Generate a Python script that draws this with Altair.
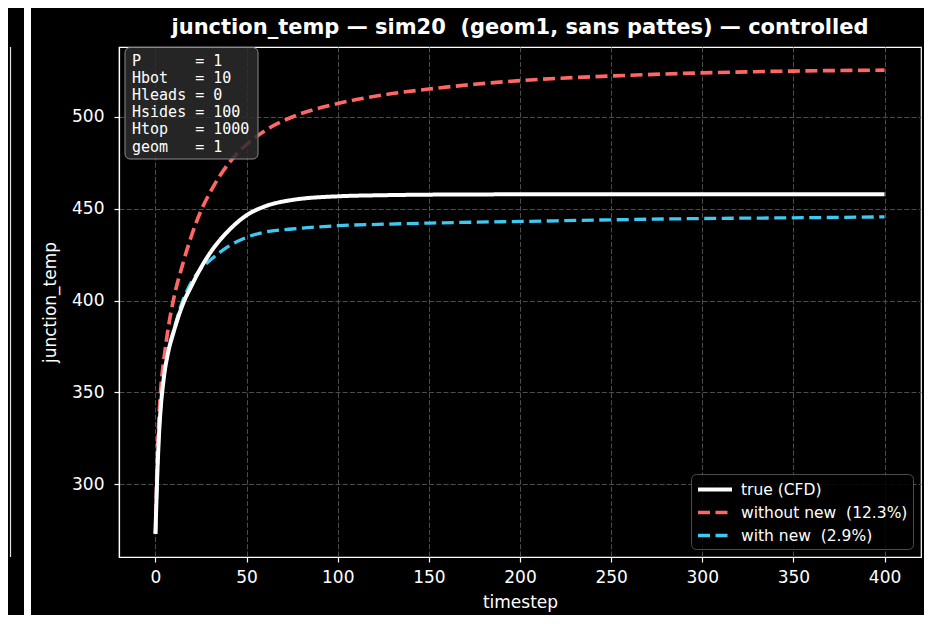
import altair as alt
import pandas as pd

# ---- data ----
timesteps = [0, 1, 2, 3, 4, 5, 7, 10, 15, 20, 25, 30, 40, 50, 60, 75, 100, 125, 150, 175, 200, 250, 300, 350, 400]
true_cfd = [273, 305, 328, 343, 353, 361, 372, 383, 398, 408.5, 418, 426, 438, 446.5, 451.3, 454.8, 456.8, 457.4,
            457.7, 457.8, 457.9, 457.9, 457.9, 457.9, 457.9]
without_new = [273, 314, 338, 353, 363, 371, 385, 401, 420, 436, 449, 459, 474.5, 485, 492.5, 500, 507.3, 512,
               515.2, 517.8, 519.8, 522.3, 524, 525, 525.5]
with_new = [273, 305, 329, 344, 354, 362, 373, 384, 400, 410.5, 417.5, 422, 429.5, 434.5, 437.3, 439, 440.8,
            441.6, 442.2, 442.7, 443.1, 444, 444.7, 445.1, 445.6]

series_names = ["true (CFD)", "without new\u00a0 (12.3%)", "with new\u00a0 (2.9%)"]
series_colors = ["#ffffff", "#ff6666", "#3ec8f2"]
series_dash = [[1, 0], [12, 5.5], [12, 5.5]]
series_width = [4, 3.3, 3.3]

x_ticks = [0, 50, 100, 150, 200, 250, 300, 350, 400]
y_ticks = [300, 350, 400, 450, 500]

params = [("P", 1), ("Hbot", 10), ("Hleads", 0), ("Hsides", 100), ("Htop", 1000), ("geom", 1)]
box_lines = [f"{k:<6} = {v}".replace(" ", "\u00a0") for k, v in params]

title_text = "junction_temp \u2014 sim20\u00a0 (geom1, sans pattes) \u2014 controlled"

rows = []
for name, vals in zip(series_names, [true_cfd, without_new, with_new]):
    for t, v in zip(timesteps, vals):
        rows.append({"timestep": t, "junction_temp": v, "series": name})
df = pd.DataFrame(rows)

FONT = "DejaVu Sans"

leg = alt.Legend(
    title=None, orient="none", legendX=572, legendY=427,
    symbolType="M-1,0H3", symbolSize=289, labelOffset=24,
    labelFontSize=15.5, labelFont=FONT, labelColor="white", labelLimit=400,
    fillColor="rgba(0,0,0,0.85)", strokeColor="#4d4d4d", cornerRadius=5,
    padding=5, rowPadding=4,
)

x_enc = alt.X("timestep:Q", scale=alt.Scale(domain=[-20, 420], nice=False, zero=False),
              axis=alt.Axis(values=x_ticks, title="timestep", format="d"))
y_enc = alt.Y("junction_temp:Q", scale=alt.Scale(domain=[260.4, 538.1], nice=False, zero=False),
              axis=alt.Axis(values=y_ticks, title="junction_temp", format="d"))
color_enc = alt.Color("series:N", scale=alt.Scale(domain=series_names, range=series_colors), legend=leg)
dash_enc = alt.StrokeDash("series:N", scale=alt.Scale(domain=series_names, range=series_dash), legend=leg)
width_enc = alt.StrokeWidth("series:N", scale=alt.Scale(domain=series_names, range=series_width), legend=leg)

base = alt.Chart(df).mark_line(interpolate="monotone").encode(
    x=x_enc, y=y_enc, color=color_enc, strokeDash=dash_enc, strokeWidth=width_enc
)

line_layers = [base.transform_filter(alt.datum.series == s) for s in [series_names[2], series_names[1], series_names[0]]]

one = alt.Data(values=[{"k": 1}])

box_rect = alt.Chart(one).mark_rect(
    cornerRadius=5, fill="#2b2b2b", fillOpacity=0.85, stroke="#8a8a8a", strokeWidth=1
).encode(x=alt.value(6), x2=alt.value(139), y=alt.value(0.5), y2=alt.value(112))

box_text = alt.Chart(one).mark_text(
    text=box_lines, font="DejaVu Sans Mono", fontSize=15, lineHeight=17.2,
    align="left", baseline="middle", color="white"
).encode(x=alt.value(13), y=alt.value(13.7))

title_mark = alt.Chart(one).mark_text(
    text=title_text, font=FONT, fontSize=21, fontWeight="bold", color="white",
    align="center", baseline="alphabetic"
).encode(x=alt.value(401), y=alt.value(-13.5))

# decorations from neighbouring panel (cropped figure)
strip = alt.Chart(one).mark_rect(fill="white").encode(
    x=alt.value(-95), x2=alt.value(-88), y=alt.value(-45), y2=alt.value(590))
left_frame = alt.Chart(one).mark_rule(color="#e0e0e0", strokeWidth=1.2).encode(
    x=alt.value(-108.5), y=alt.value(0), y2=alt.value(510))

chart = alt.layer(strip, left_frame, *line_layers, box_rect, box_text, title_mark).properties(
    width=802, height=510,
    autosize=alt.AutoSizeParams(type="none"),
    padding={"left": 111, "top": 39, "right": 3, "bottom": 58},
    background="black",
).configure_view(
    stroke="white", strokeWidth=1.2
).configure_axis(
    labelFont=FONT, titleFont=FONT, labelFontSize=17, titleFontSize=17,
    labelColor="white", titleColor="white", titleFontWeight="normal",
    domainColor="white", domainWidth=1.2, tickColor="white", tickSize=5, tickWidth=1.2,
    gridColor="#4d4d4d", gridDash=[5, 2.2], gridWidth=1, grid=True,
).configure_axisX(
    labelPadding=7, titlePadding=9
).configure_axisY(
    labelPadding=10, titlePadding=12
)

chart.save("out.html", embed_options={"renderer": "svg", "actions": False})
